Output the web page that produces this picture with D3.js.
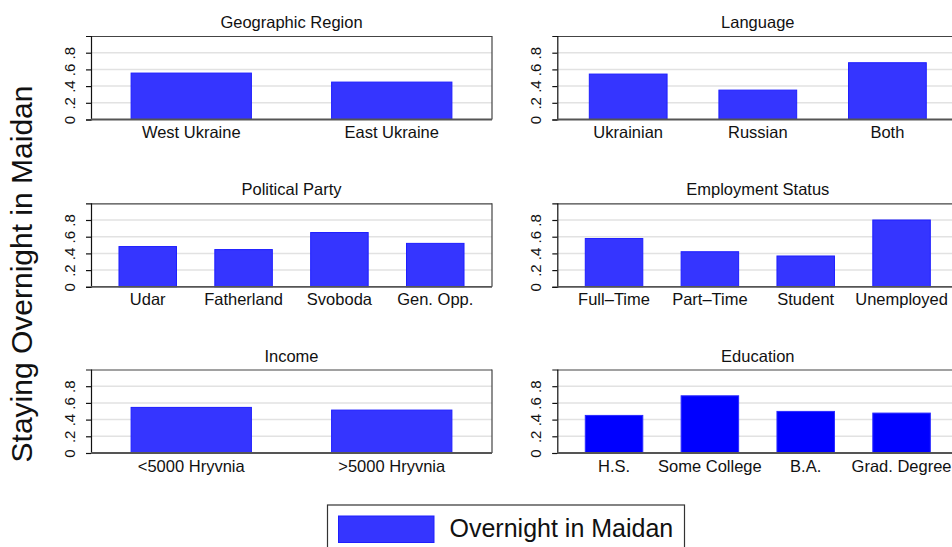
<!DOCTYPE html>
<html>
<head>
<meta charset="utf-8">
<style>
  body { margin: 0; background: #fff; overflow: hidden; }
  svg { font-family: "Liberation Sans", Arial, sans-serif; }
</style>
</head>
<body>
<svg id="chart" width="952" height="547"></svg>
<script src="https://cdn.jsdelivr.net/npm/d3@7/dist/d3.min.js"></script>
<script>
// values
const regionCats = ['West Ukraine', 'East Ukraine'];
const regionVals = [0.556, 0.448];
const languageCats = ['Ukrainian', 'Russian', 'Both'];
const languageVals = [0.544, 0.352, 0.68];
const partyCats = ['Udar', 'Fatherland', 'Svoboda', 'Gen. Opp.'];
const partyVals = [0.482, 0.446, 0.65, 0.52];
const employCats = ['Full\u2013Time', 'Part\u2013Time', 'Student', 'Unemployed'];
const employVals = [0.578, 0.42, 0.369, 0.80];
const incomeCats = ['<5000 Hryvnia', '>5000 Hryvnia'];
const incomeVals = [0.546, 0.514];
const educCats = ['H.S.', 'Some College', 'B.A.', 'Grad. Degree'];
const educVals = [0.45, 0.685, 0.498, 0.478];

const panelTitles = ['Geographic Region', 'Language', 'Political Party', 'Employment Status', 'Income', 'Education'];
const yTicks = [0, 0.2, 0.4, 0.6, 0.8];
const yTickLabels = ['0', '.2', '.4', '.6', '.8'];
const yTitle = 'Staying Overnight in Maidan';
const legendLabel = 'Overnight in Maidan';

const panels = [
  { title: panelTitles[0], cats: regionCats, vals: regionVals },
  { title: panelTitles[1], cats: languageCats, vals: languageVals },
  { title: panelTitles[2], cats: partyCats, vals: partyVals },
  { title: panelTitles[3], cats: employCats, vals: employVals },
  { title: panelTitles[4], cats: incomeCats, vals: incomeVals },
  { title: panelTitles[5], cats: educCats, vals: educVals }
];

const svg = d3.select('#chart');

const colX = [91, 557.3];
const rowY = [36, 203.3, 369.5];
const pw = 401, ph = 83.5;
// stata-ish outer gap grows with number of bars
const outerPad = { 2: 0.2, 3: 0.247, 4: 0.292 };

const y = d3.scaleLinear().domain([0, 1]).range([ph, 0]);

panels.forEach((p, i) => {
  const g = svg.append('g')
    .attr('transform', `translate(${colX[i % 2]},${rowY[Math.floor(i / 2)]})`);

  const x = d3.scaleBand()
    .domain(p.cats)
    .range([0, pw])
    .paddingInner(0.4)
    .paddingOuter(outerPad[p.cats.length]);

  // grid
  g.selectAll('line.grid')
    .data(yTicks.filter(t => t > 0))
    .enter().append('line')
    .attr('x1', 0).attr('x2', pw)
    .attr('y1', d => y(d)).attr('y2', d => y(d))
    .attr('stroke', '#e2e2e2').attr('stroke-width', 1.5);

  const fill = i === 5 ? '#0000ff' : '#3535ff';
  const edge = i === 5 ? '#2a2aff' : '#1e1eff';
  g.selectAll('rect.bar')
    .data(p.cats.map((c, k) => ({ c, v: p.vals[k] })))
    .enter().append('rect')
    .attr('x', d => x(d.c))
    .attr('width', x.bandwidth())
    .attr('y', d => y(d.v))
    .attr('height', d => y(0) - y(d.v))
    .attr('fill', fill)
    .attr('stroke', edge).attr('stroke-width', 1);

  // box
  g.append('line').attr('x1', 0).attr('x2', pw).attr('y1', 0.5).attr('y2', 0.5)
    .attr('stroke', '#444').attr('stroke-width', 1.2);
  g.append('line').attr('x1', pw).attr('x2', pw).attr('y1', 0).attr('y2', ph)
    .attr('stroke', '#444').attr('stroke-width', 1.2);

  // y axis
  const yAxis = d3.axisLeft(y).tickValues(yTicks).tickSize(5).tickFormat((d, k) => yTickLabels[k]);
  const ya = g.append('g').call(yAxis)
    .attr('font-size', 15)
    .attr('font-family', '"Liberation Sans", Arial, sans-serif');
  ya.select('.domain').attr('stroke', '#111').attr('stroke-width', 1.2);
  ya.selectAll('.tick line').attr('stroke', '#111').attr('stroke-width', 1.2);
  ya.selectAll('.tick text')
    .attr('x', null).attr('dy', null)
    .attr('transform', 'translate(-16,0) rotate(-90)')
    .attr('text-anchor', 'middle')
    .attr('fill', '#111');

  // x axis line and labels
  g.append('line').attr('x1', 0).attr('x2', pw).attr('y1', ph).attr('y2', ph)
    .attr('stroke', '#555').attr('stroke-width', 1.8);
  g.selectAll('text.xlab')
    .data(p.cats)
    .enter().append('text')
    .attr('x', d => x(d) + x.bandwidth() / 2)
    .attr('y', ph + 18.5)
    .attr('text-anchor', 'middle')
    .attr('font-size', 16.5)
    .attr('fill', '#111')
    .text(d => d);

  g.append('text')
    .attr('x', pw / 2).attr('y', -8)
    .attr('text-anchor', 'middle')
    .attr('font-size', 16.5)
    .attr('fill', '#111')
    .text(p.title);
});

// y title
svg.append('text')
  .attr('transform', 'translate(32,274) rotate(-90)')
  .attr('text-anchor', 'middle')
  .attr('font-size', 30)
  .attr('fill', '#111')
  .text(yTitle);

// legend
const leg = svg.append('g').attr('transform', 'translate(327.5,505)');
leg.append('rect').attr('x', 0).attr('y', 0).attr('width', 357).attr('height', 60)
  .attr('fill', '#fff').attr('stroke', '#333').attr('stroke-width', 1.2);
leg.append('rect').attr('x', 11).attr('y', 11).attr('width', 95.5).attr('height', 26.5)
  .attr('fill', '#3535ff').attr('stroke', '#1e1eff');
leg.append('text').attr('x', 122).attr('y', 32).attr('font-size', 25).attr('fill', '#111')
  .text(legendLabel);
</script>
</body>
</html>
